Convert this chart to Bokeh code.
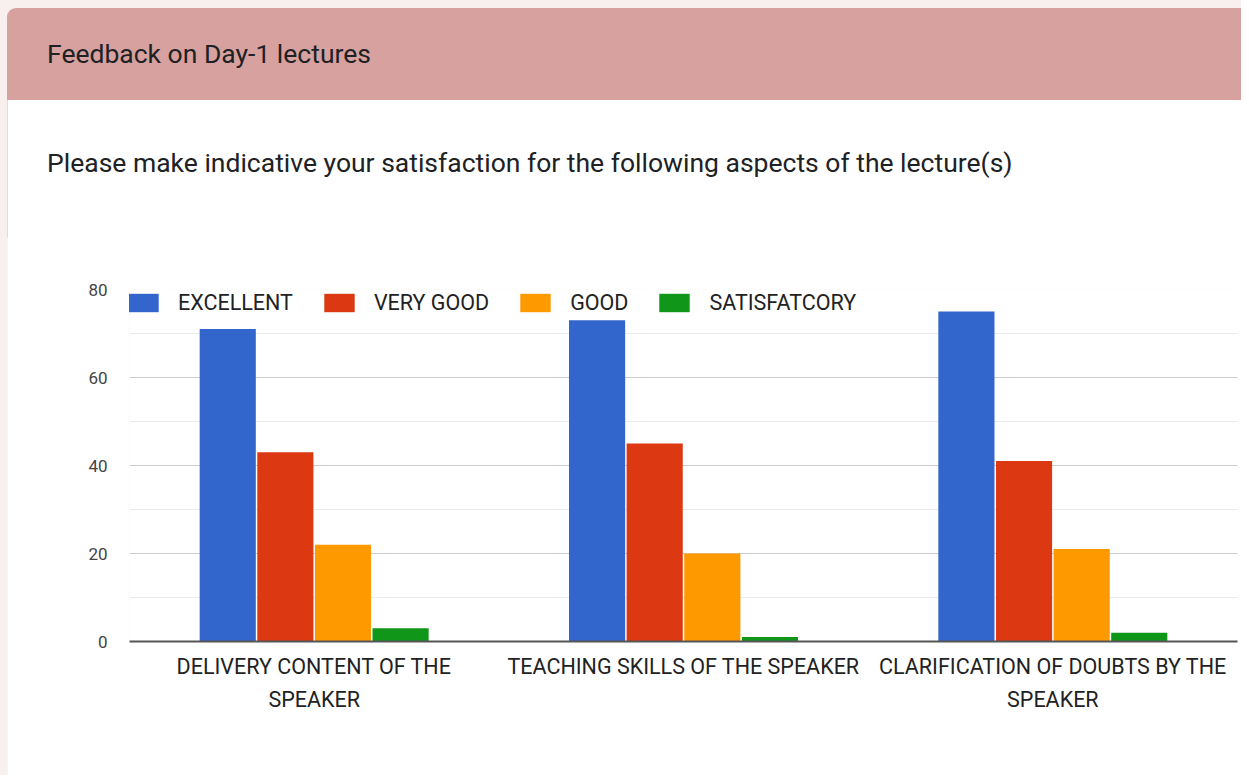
from bokeh.plotting import figure
from bokeh.models import ColumnDataSource, FactorRange, Range1d, SingleIntervalTicker, Legend, LegendItem, Div
from bokeh.transform import dodge
from bokeh.layouts import column
from bokeh.embed import file_html
from bokeh.resources import INLINE

header_text = "Feedback on Day-1 lectures"
subtitle_text = "Please make indicative your satisfaction for the following aspects of the lecture(s)"

categories = ["DELIVERY CONTENT OF THE\nSPEAKER", "TEACHING SKILLS OF THE SPEAKER",
              "CLARIFICATION OF DOUBTS BY THE\nSPEAKER"]
series = ["EXCELLENT", "VERY GOOD", "GOOD", "SATISFATCORY"]
excellent = [71, 73, 75]
very_good = [43, 45, 41]
good = [22, 20, 21]
satisfactory = [3, 1, 2]

colors = ["#3366cc", "#dc3912", "#ff9900", "#109618"]
FONT = "Roboto"
PAGE_BG = "#f8efef"
W = 1241

# ---------- header (HTML text) ----------
HH = 238
header_html = (
    f'<div style="width:{W}px;height:{HH}px;background:{PAGE_BG};padding:8px 0 0 7px;'
    f'box-sizing:border-box;font-family:Roboto,sans-serif;color:#202124;">'
    f'<div style="height:{HH - 8}px;background:white;border-top-left-radius:9px;'
    f'border-left:1px solid #ecd8d8;">'
    f'<div style="height:92px;background:#d7a19f;border-top-left-radius:9px;margin-left:-1px;'
    f'padding-left:40px;font-size:26.5px;line-height:92px;">{header_text}</div>'
    f'<div style="padding-left:39px;margin-top:44px;font-size:26.5px;line-height:38px;">{subtitle_text}</div>'
    f'</div></div>'
)
h = Div(text=header_html, width=W, height=HH, margin=0)

# ---------- chart figure ----------
source = ColumnDataSource(dict(cat=categories, excellent=excellent, very_good=very_good,
                               good=good, satisfactory=satisfactory))
keys = ["excellent", "very_good", "good", "satisfactory"]

MH = 538
p = figure(width=W - 7, height=MH, x_range=FactorRange(*categories), y_range=Range1d(0, 80),
           output_backend="svg", toolbar_location=None,
           min_border_left=122, min_border_right=4, min_border_top=52, min_border_bottom=134)
p.margin = (-1, 0, 0, 7)
p.outline_line_color = None
p.background_fill_color = "white"
p.border_fill_color = "white"

offsets = [-0.234, -0.078, 0.078, 0.234]
renderers = []
for k, off, c in zip(keys, offsets, colors):
    r = p.vbar(x=dodge("cat", off, range=p.x_range), top=k, width=0.152, source=source,
               fill_color=c, line_color=None)
    renderers.append(r)

legend = Legend(items=[LegendItem(label=s, renderers=[r]) for s, r in zip(series, renderers)],
                orientation="horizontal", location=(-5, 326),
                glyph_width=38, glyph_height=23, label_standoff=16, spacing=27,
                padding=0, margin=0, border_line_alpha=0, background_fill_alpha=0,
                label_text_font=FONT, label_text_font_size="21.5px", label_text_color="#222222",
                label_height=26)
p.add_layout(legend)

p.yaxis.ticker = SingleIntervalTicker(interval=20, num_minor_ticks=2)
p.yaxis.axis_line_color = None
p.yaxis.major_tick_line_color = None
p.yaxis.minor_tick_line_color = None
p.yaxis.major_tick_out = 0
p.yaxis.major_label_standoff = 18
p.yaxis.major_label_text_font = FONT
p.yaxis.major_label_text_font_size = "17px"
p.yaxis.major_label_text_color = "#444444"

p.ygrid.grid_line_color = "#cccccc"
p.ygrid.minor_grid_line_color = "#ebebeb"
p.xgrid.grid_line_color = None

p.xaxis.axis_line_color = "#555555"
p.xaxis.axis_line_width = 2
p.xaxis.major_tick_line_color = None
p.xaxis.minor_tick_line_color = None
p.xaxis.major_tick_out = 0
p.xaxis.major_label_standoff = 12
p.xaxis.major_label_text_font = FONT
p.xaxis.major_label_text_font_size = "21.5px"
p.xaxis.major_label_text_color = "#222222"
p.xaxis.major_label_text_line_height = 1.33

layout = column(h, p, spacing=0, styles={"background-color": PAGE_BG})
open("out.html", "w").write(file_html(layout, INLINE))
